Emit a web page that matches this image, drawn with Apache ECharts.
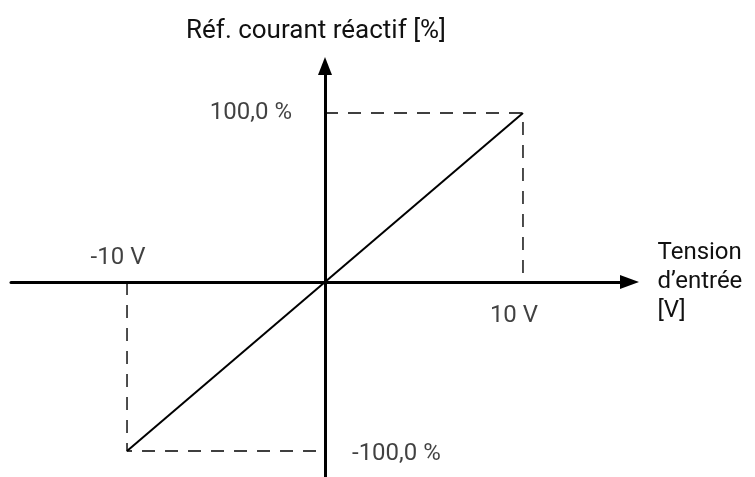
<!DOCTYPE html>
<html>
<head>
<meta charset="utf-8">
<script src="https://cdn.jsdelivr.net/npm/echarts@6/dist/echarts.min.js"></script>
<style>
  html, body { margin: 0; padding: 0; background: #fff; }
  #chart { width: 755px; height: 477px; }
</style>
</head>
<body>
<div id="chart"></div>
<script>
// valeurs
const refLine = [[-10, -100], [10, 100]];
const upperGuide = [[0, 100], [10, 100], [10, 0]];
const lowerGuide = [[-10, 0], [-10, -100], [0, -100]];
const xTickValues = [-10, 10];
const xTickLabels = ['-10 V', '10 V'];
const yTickValues = [100, -100];
const yTickLabels = ['100,0 %', '-100,0 %'];
const xRange = [-15.86, 15.38];
const yRange = [-115.4, 127.8];

const FONT = 'Roboto';
const FS = 24;
const chart = echarts.init(document.getElementById('chart'), null, { renderer: 'canvas' });

const dashStyle = { color: '#000', width: 1.4, type: [13, 10] };

var option = {
    animation: false,
    grid: { left: 11, top: 66, width: 618.5, height: 411 },
    xAxis: {
        type: 'value',
        min: xRange[0],
        max: xRange[1],
        name: 'Tension\nd\u2019entrée\n[V]',
        nameLocation: 'end',
        nameGap: 28,
        nameTextStyle: { fontFamily: FONT, fontSize: FS, color: '#111', lineHeight: 29, align: 'left' },
        axisLine: {
            onZero: true,
            symbol: ['none', 'triangle'],
            symbolSize: [14, 19],
            lineStyle: { color: '#000', width: 3 }
        },
        axisTick: { show: false },
        axisLabel: { show: false },
        splitLine: { show: false }
    },
    yAxis: {
        type: 'value',
        min: yRange[0],
        max: yRange[1],
        name: 'Réf. courant réactif [%]',
        nameLocation: 'end',
        nameGap: 22,
        nameTextStyle: { fontFamily: FONT, fontSize: 26, color: '#111', padding: [0, 18, 0, 0] },
        axisLine: {
            onZero: true,
            symbol: ['none', 'triangle'],
            symbolSize: [14, 18],
            lineStyle: { color: '#000', width: 3 }
        },
        axisTick: { show: false },
        axisLabel: { show: false },
        splitLine: { show: false }
    },
    series: [
        {
            type: 'line',
            data: upperGuide,
            symbol: 'none',
            lineStyle: dashStyle,
            z: 2
        },
        {
            type: 'line',
            data: lowerGuide,
            symbol: 'none',
            lineStyle: dashStyle,
            z: 2
        },
        {
            type: 'line',
            data: refLine,
            symbol: 'none',
            lineStyle: { color: '#000', width: 2 },
            z: 3
        },
        {
            // étiquettes de l'axe horizontal
            type: 'scatter',
            symbolSize: 0,
            data: xTickValues.map(function (v, i) {
                return {
                    value: [v, 0],
                    label: {
                        show: true,
                        formatter: xTickLabels[i],
                        position: v < 0 ? 'top' : 'bottom',
                        distance: v < 0 ? 12 : 22,
                        offset: [-9, 0]
                    }
                };
            }),
            label: { fontFamily: FONT, fontSize: FS, color: '#111' },
            silent: true
        },
        {
            // étiquettes de l'axe vertical
            type: 'scatter',
            symbolSize: 0,
            data: yTickValues.map(function (v, i) {
                return {
                    value: [0, v],
                    label: {
                        show: true,
                        formatter: yTickLabels[i],
                        position: v > 0 ? 'left' : 'right',
                        distance: v > 0 ? 33 : 27,
                        offset: v > 0 ? [0, 0] : [0, 3]
                    }
                };
            }),
            label: { fontFamily: FONT, fontSize: FS, color: '#111' },
            silent: true
        }
    ]
};

chart.setOption(option);
</script>
</body>
</html>
